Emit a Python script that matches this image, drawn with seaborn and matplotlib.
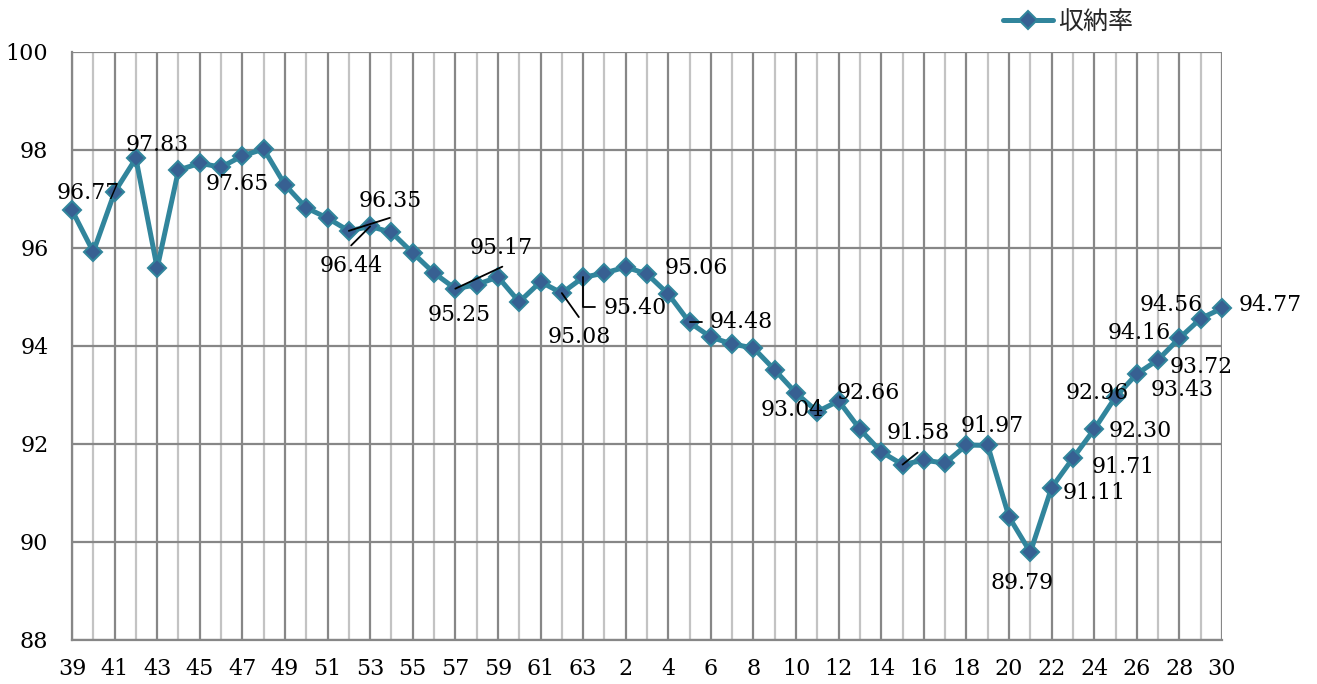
import matplotlib
matplotlib.use('Agg')
import pandas as pd
import matplotlib.pyplot as plt
import seaborn as sns

# 昭和39年 ～ 平成30年
showa = ['39', '40', '41', '42', '43', '44', '45', '46', '47', '48', '49', '50', '51',
         '52', '53', '54', '55', '56', '57', '58', '59', '60', '61', '62', '63']
heisei = ['1', '2', '3', '4', '5', '6', '7', '8', '9', '10', '11', '12', '13', '14', '15',
          '16', '17', '18', '19', '20', '21', '22', '23', '24', '25', '26', '27', '28', '29', '30']
years = showa + heisei

rate_showa = [96.77, 95.92, 97.14, 97.83, 95.59, 97.59, 97.73, 97.65, 97.88, 98.02, 97.29, 96.82, 96.61,
              96.35, 96.44, 96.32, 95.90, 95.49, 95.17, 95.25, 95.41, 94.90, 95.31, 95.08, 95.40]
rate_heisei = [95.49, 95.61, 95.47, 95.06, 94.48, 94.18, 94.04, 93.96, 93.51, 93.04, 92.66, 92.88, 92.30,
               91.84, 91.58, 91.67, 91.61, 91.98, 91.97, 90.51, 89.79, 91.11, 91.71, 92.30, 92.96, 93.43,
               93.72, 94.16, 94.56, 94.77]
rate = rate_showa + rate_heisei

# labelled points: year label, text offset in pixels (x right, y up)
label_years = ['S39', 'S42', 'S46', 'S52', 'S53', 'S57', 'S58', 'S62', 'S63', 'H4', 'H5', 'H10', 'H11',
               'H15', 'H19', 'H21', 'H22', 'H23', 'H24', 'H25', 'H26', 'H27', 'H28', 'H29', 'H30']
label_offsets = [(16, 17), (21, 13), (16, -17), (41, 30), (-19, -40), (46, 41), (-17, -30), (17, -44),
                 (52, -31), (28, 26), (52, 0), (-4, -17), (51, 19), (16, 32), (4, 19), (-8, -31),
                 (43, -5), (50, -9), (46, -2), (-18, 4), (45, -16), (43, -7), (-40, 5), (-29, 14), (48, 3)]

# leader lines (pixel offsets from the point)
leaders = {
    'S52': [(0, 0), (41, 13)],
    'S53': [(0, 0), (-19, -19)],
    'S57': [(0, 0), (47, 22)],
    'S62': [(0, 0), (17, -24)],
    'S63': [(0, 0), (0, -30), (12, -30)],
    'H5': [(0, 0), (12, 0)],
    'H15': [(0, 0), (15, 12)],
}


def idx_of(key):
    era, y = key[0], key[1:]
    return showa.index(y) if era == 'S' else len(showa) + heisei.index(y)


df = pd.DataFrame({'idx': range(len(years)), 'rate': rate})

sns.set_style('white')
plt.rcParams['font.family'] = ['DejaVu Serif']

fig, ax = plt.subplots(figsize=(13.17, 6.84), dpi=100)
fig.subplots_adjust(left=72 / 1317, right=1222 / 1317, bottom=1 - 640 / 684, top=1 - 52 / 684)

line_c = '#31859C'
sns.lineplot(data=df, x='idx', y='rate', ax=ax, color=line_c, linewidth=3.6,
             marker='D', markersize=9, markerfacecolor='#376092', markeredgecolor=line_c,
             markeredgewidth=1.5, label='収納率', zorder=3, clip_on=False)

ax.set_xlim(0, len(years) - 1)
ax.set_ylim(88, 100)
ax.set_yticks(range(88, 101, 2))
ax.set_xticks(range(0, len(years), 2))
ax.set_xticklabels(years[::2])
ax.set_xticks(range(1, len(years), 2), minor=True)
ax.tick_params(axis='both', which='both', length=0, labelsize=16, colors='black')
ax.tick_params(axis='x', pad=13)
ax.tick_params(axis='y', pad=17)
ax.grid(True, which='major', color='#878787', linewidth=1.6)
ax.grid(True, which='minor', axis='x', color='#C3C3C3', linewidth=1.6)
ax.set_axisbelow(True)
ax.set_xlabel('')
ax.set_ylabel('')
for s in ['top', 'right']:
    ax.spines[s].set_visible(False)
for s in ['left', 'bottom']:
    ax.spines[s].set_color('#878787')
    ax.spines[s].set_linewidth(1.6)

# data labels
for key, (dx, dy) in zip(label_years, label_offsets):
    i = idx_of(key)
    ax.annotate(f'{rate[i]:.2f}', xy=(i, rate[i]), xytext=(dx, dy), textcoords='offset pixels',
                ha='center', va='center', fontsize=15.8, color='black', zorder=5)

# leader lines
px_x = (len(years) - 1) / 1150
px_y = 12 / 588
for key, pts in leaders.items():
    i = idx_of(key)
    xs = [i + p[0] * px_x for p in pts]
    ys = [rate[i] + p[1] * px_y for p in pts]
    ax.plot(xs, ys, color='black', linewidth=1.3, zorder=4, clip_on=False)

leg = ax.legend(loc='center left', bbox_to_anchor=(1003 / 1317, 1 - 22 / 684),
                bbox_transform=fig.transFigure, frameon=False, handlelength=2.0,
                handletextpad=0.2, borderpad=0, borderaxespad=0,
                prop={'family': ['Noto Sans CJK JP'], 'size': 18})

fig.savefig('out.png', dpi=100)
